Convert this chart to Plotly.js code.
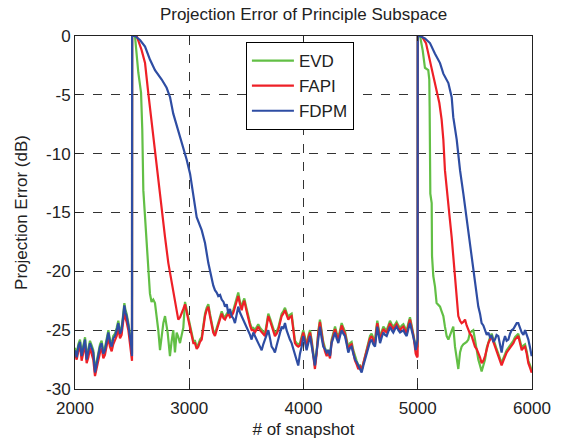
<!DOCTYPE html>
<html>
<head>
<meta charset="utf-8">
<script src="https://cdn.plot.ly/plotly-3.0.1.min.js"></script>
<style>html,body{margin:0;padding:0;background:#fff;}#chart{width:563px;height:439px;}</style>
</head>
<body>
<div id="chart"></div>
<script>
const seriesNames = ["EVD", "FAPI", "FDPM"];
const seriesColors = ["#62bf45", "#ee2027", "#2e4da3"];
const xTicks = [2000, 3000, 4000, 5000, 6000];
const yTicks = [0, -5, -10, -15, -20, -25, -30];

const evdX = [2000,2015,2029,2044,2058,2073,2088,2102,2117,2131,2146,2160,2175,2190,2204,2219,2233,2248,2262,2277,2292,2306,2321,2335,2350,2365,2379,2394,2408,2420,2432,2442,2452,2467,2481,2492,2499,
2500,2525,2540,2554,2578,2589,2598,2618,2636,2645,2656,2670,2685,2700,2715,2729,2744,2758,2773,2788,2800,2811,2822,2831,2845,2860,2875,2890,2905,2919,2934,2948,2963,2978,2992,
3007,3021,3036,3050,3065,3079,3094,3109,3123,3138,3152,3167,3181,3196,3210,3225,3240,3254,3270,3284,3300,3313,3328,3342,3357,3371,3386,3400,3415,3429,3444,3459,3470,3482,3500,3517,3532,3546,3561,3575,3590,3604,3619,3634,3648,3663,3677,3692,3707,3721,3736,3750,3765,3779,3794,3809,3823,3838,3852,3867,3881,3896,3910,3925,3940,3954,3969,3984,
3998,4013,4027,4042,4057,4071,4086,4100,4115,4129,4144,4158,4173,4188,4203,4217,4232,4246,4261,4276,4290,4305,4320,4334,4349,4363,4378,4392,4407,4421,4436,4451,4465,4480,4495,4509,4524,4538,4553,4567,4582,4596,4611,4626,4636,4646,4658,4670,4685,4699,4714,4728,4743,4757,4772,4786,4801,4815,4830,4845,4860,4874,4889,4903,4918,4932,4947,4961,4972,4982,4995,4999,
5000,5020,5043,5055,5063,5092,5101,5104,5110,5122,5125,5136,5151,5165,5180,5195,5209,5224,5238,5253,5268,5282,5297,5311,5326,5341,5355,5370,5384,5399,5414,5428,5443,5457,5472,5486,5501,5516,5530,5545,5559,5574,5589,5604,5618,5633,5647,5662,5676,5690,5705,5720,5734,5749,5764,5778,5793,5808,5822,5837,5851,5866,5880,5895,5910,5925,5939,5954,5968,5983,5997,6000];
const evdY = [-26.5,-27.1,-26.2,-25.8,-27.0,-26.4,-25.6,-27.3,-26.6,-25.9,-26.3,-26.7,-28.4,-27.6,-27.0,-26.2,-25.9,-26.8,-26.5,-25.7,-25.0,-25.8,-26.2,-25.5,-25.3,-24.8,-24.2,-25.1,-24.8,-23.8,-22.7,-23.3,-23.6,-24.4,-25.3,-26.1,-27.0,
0,0,-1.76,-3.1,-4.8,-8.0,-13.1,-16.5,-19.3,-20.8,-21.9,-22.6,-22.4,-22.7,-23.8,-25.0,-26.7,-25.5,-24.4,-23.8,-24.5,-25.2,-26.3,-27.2,-26.0,-25.0,-26.9,-25.2,-25.6,-26.1,-25.4,-24.8,-22.6,-23.3,-23.9,
-24.7,-25.3,-25.9,-25.9,-26.4,-26.2,-25.8,-25.6,-24.6,-23.6,-23.1,-22.8,-23.6,-24.5,-25.0,-25.3,-24.8,-24.5,-23.8,-23.4,-23.8,-23.9,-23.6,-23.4,-23.7,-23.6,-23.3,-22.8,-22.3,-21.8,-22.6,-23.1,-22.6,-22.3,-23.1,-23.9,-24.4,-24.8,-24.8,-25.0,-24.7,-24.5,-24.8,-25.0,-25.2,-25.3,-24.5,-23.6,-24.0,-24.5,-24.9,-25.3,-25.1,-24.8,-24.2,-23.6,-23.4,-23.1,-23.5,-23.9,-23.7,-23.6,-24.7,-25.9,-26.1,-26.2,-26.1,-25.6,
-25.0,-25.6,-26.3,-25.5,-25.0,-25.8,-26.8,-28.0,-26.8,-25.1,-24.1,-25.1,-26.0,-26.5,-26.9,-26.7,-27.1,-25.8,-25.1,-24.7,-25.2,-25.6,-25.0,-24.4,-24.8,-25.1,-25.8,-26.5,-26.1,-26.0,-26.7,-27.3,-27.6,-28.0,-28.0,-28.4,-27.8,-27.2,-26.5,-25.9,-25.5,-25.3,-25.7,-26.0,-24.9,-24.2,-24.9,-25.7,-25.1,-24.7,-24.9,-25.0,-24.6,-24.2,-24.5,-24.7,-24.5,-24.3,-24.6,-24.8,-24.6,-24.5,-24.8,-25.1,-24.4,-23.9,-24.6,-25.2,-25.9,-26.6,-26.5,-26.4,
0,0,-1.2,-2.3,-2.7,-2.9,-3.7,-6.0,-13.4,-14.2,-18.7,-20.4,-21.3,-22.7,-22.9,-23.0,-23.4,-23.8,-24.7,-25.5,-25.8,-25.4,-25.0,-24.7,-26.4,-27.5,-28.3,-26.9,-26.4,-26.2,-26.1,-26.0,-25.8,-25.2,-25.1,-25.0,-25.8,-26.7,-27.5,-28.0,-28.5,-28.0,-27.5,-26.5,-26.0,-25.6,-25.3,-25.8,-26.2,-26.6,-27.0,-27.4,-27.8,-27.4,-27.0,-26.7,-26.5,-26.3,-26.2,-25.9,-25.6,-25.4,-25.3,-25.9,-26.5,-26.3,-26.2,-26.8,-27.6,-28.0,-28.4,-28.2];

const fapiX = [2000,2015,2029,2044,2058,2073,2088,2102,2117,2131,2146,2160,2175,2190,2204,2219,2233,2248,2262,2277,2292,2306,2321,2335,2350,2365,2379,2394,2408,2420,2432,2442,2452,2467,2481,2492,2499,
2500,2540,2583,2613,2642,2671,2700,2729,2759,2788,2817,2846,2860,2875,2890,2904,2920,2934,2948,2963,2978,2992,
3007,3021,3036,3050,3065,3079,3094,3109,3123,3138,3152,3167,3181,3196,3210,3225,3240,3254,3270,3284,3300,3313,3328,3342,3357,3371,3386,3400,3415,3429,3444,3459,3470,3482,3500,3517,3532,3546,3561,3575,3590,3604,3619,3634,3648,3663,3677,3692,3707,3721,3736,3750,3765,3779,3794,3809,3823,3838,3852,3867,3881,3896,3910,3925,3940,3954,3969,3984,
3998,4013,4027,4042,4057,4071,4086,4100,4115,4129,4144,4158,4173,4188,4203,4217,4232,4246,4261,4276,4290,4305,4320,4334,4349,4363,4378,4392,4407,4421,4436,4451,4465,4480,4495,4509,4524,4538,4553,4567,4582,4596,4611,4626,4636,4646,4658,4670,4685,4699,4714,4728,4743,4757,4772,4786,4801,4815,4830,4845,4860,4874,4889,4903,4918,4932,4947,4961,4972,4982,4995,4999,
5000,5034,5072,5092,5113,5130,5165,5189,5209,5224,5238,5253,5276,5297,5311,5326,5341,5355,5370,5384,5399,5414,5428,5443,5457,5472,5486,5501,5516,5530,5545,5559,5574,5589,5604,5618,5633,5647,5662,5676,5690,5705,5720,5734,5749,5764,5778,5793,5808,5822,5837,5851,5866,5880,5895,5910,5925,5939,5954,5968,5983,5997,6000];
const fapiY = [-27.0,-27.5,-26.8,-26.3,-27.6,-27.0,-26.2,-27.8,-27.3,-26.5,-27.0,-27.5,-28.9,-28.2,-27.5,-26.9,-26.5,-27.4,-27.1,-26.3,-25.6,-26.4,-26.8,-26.2,-25.9,-25.5,-24.8,-25.7,-25.4,-24.4,-23.4,-24.0,-24.3,-25.0,-26.0,-26.8,-27.6,
0,0,-1.2,-2.3,-4.9,-7.4,-10.0,-12.5,-15.1,-17.1,-19.3,-21.0,-21.8,-22.4,-23.4,-24.1,-23.9,-23.6,-23.2,-22.8,-23.5,-24.1,
-24.9,-25.5,-26.1,-26.1,-26.6,-26.4,-26.0,-25.8,-24.8,-23.8,-23.3,-23.0,-23.8,-24.7,-25.2,-25.5,-25.0,-24.7,-24.0,-23.6,-24.0,-24.1,-23.8,-23.6,-23.9,-23.8,-23.5,-23.0,-22.6,-22.1,-22.8,-23.3,-22.8,-22.5,-23.3,-24.1,-24.6,-25.0,-25.0,-25.2,-24.9,-24.7,-25.0,-25.2,-25.4,-25.5,-24.7,-23.8,-24.2,-24.7,-25.1,-25.5,-25.3,-25.0,-24.4,-23.8,-23.6,-23.3,-23.7,-24.1,-23.9,-23.8,-24.9,-26.1,-26.3,-26.4,-26.3,-25.8,
-25.2,-25.8,-26.5,-25.7,-25.2,-26.0,-27.0,-28.3,-27.0,-25.3,-24.3,-25.3,-26.2,-26.8,-27.2,-26.9,-27.4,-26.0,-25.3,-24.9,-25.4,-25.8,-25.2,-24.6,-25.0,-25.3,-26.0,-26.7,-26.3,-26.2,-26.9,-27.6,-27.9,-28.3,-28.1,-28.4,-27.8,-27.3,-26.7,-26.1,-25.7,-25.5,-25.9,-26.2,-25.1,-24.4,-25.1,-25.9,-25.3,-24.9,-25.1,-25.2,-24.8,-24.4,-24.7,-24.9,-24.7,-24.5,-24.8,-25.0,-24.8,-24.7,-25.0,-25.3,-24.6,-24.1,-24.8,-25.4,-26.2,-27.0,-27.3,-27.2,
0,0,-0.6,-1.5,-2.3,-3.2,-4.6,-5.7,-7.1,-8.8,-11.4,-13.1,-15.1,-17.1,-18.7,-21.0,-22.4,-23.8,-24.2,-24.4,-24.3,-24.1,-24.6,-25.0,-25.3,-25.5,-26.0,-26.4,-26.6,-26.9,-27.3,-27.8,-27.6,-27.2,-26.6,-26.1,-25.8,-25.5,-26.0,-26.4,-26.8,-27.2,-27.6,-28.0,-27.6,-27.2,-26.9,-26.7,-26.5,-26.4,-26.1,-25.8,-25.6,-25.5,-26.1,-26.7,-26.5,-26.4,-27.0,-27.8,-28.2,-28.6,-28.4];

const fdpmX = [2000,2015,2029,2044,2058,2073,2088,2102,2117,2131,2146,2160,2175,2190,2204,2219,2233,2248,2262,2277,2292,2306,2321,2335,2350,2365,2379,2394,2408,2420,2432,2442,2452,2467,2481,2492,2499,
2500,2525,2569,2613,2656,2700,2759,2802,2832,2860,2904,2948,2977,3007,3036,3065,3109,3138,3167,3190,3210,3225,3240,3254,3270,3284,3300,3313,3328,3342,3357,3371,3386,3400,3415,3429,3444,3459,3474,3488,3503,3517,3532,3546,3561,3575,3590,3604,3619,3634,3648,3663,3677,3692,3707,3721,3736,3750,3765,3779,3794,3809,3823,3838,3852,3867,3881,3896,3910,3925,3940,3954,3969,3984,
3998,4013,4027,4042,4057,4071,4086,4100,4115,4129,4144,4158,4173,4188,4203,4217,4232,4246,4261,4276,4290,4305,4320,4334,4349,4363,4378,4392,4407,4421,4436,4451,4465,4480,4495,4509,4524,4538,4553,4567,4582,4596,4611,4626,4636,4646,4658,4670,4685,4699,4714,4728,4743,4757,4772,4786,4801,4815,4830,4845,4860,4874,4889,4903,4918,4932,4947,4961,4972,4982,4995,4999,
5000,5014,5063,5107,5151,5195,5224,5268,5297,5311,5341,5370,5399,5428,5457,5486,5507,5516,5530,5545,5559,5574,5589,5604,5618,5633,5647,5662,5676,5690,5705,5720,5734,5749,5764,5778,5793,5808,5822,5837,5851,5866,5880,5895,5910,5925,5939,5954,5968,5983,5997,6000];
const fdpmY = [-26.7,-27.3,-26.4,-26.0,-27.2,-26.6,-25.8,-27.5,-26.8,-26.1,-26.5,-26.9,-28.6,-27.8,-27.2,-26.4,-26.1,-27.0,-26.7,-25.9,-25.2,-26.0,-26.4,-25.7,-25.5,-25.0,-24.4,-25.3,-25.0,-24.0,-22.9,-23.5,-23.8,-24.6,-25.5,-26.3,-27.2,
0,0,-0.34,-0.9,-2.0,-2.9,-3.7,-4.4,-5.2,-6.6,-8.0,-9.4,-10.5,-11.7,-13.7,-15.4,-16.5,-17.6,-19.3,-20.4,-21.2,-21.6,-21.8,-22.1,-22.0,-22.4,-22.6,-23.0,-22.8,-23.6,-23.2,-23.8,-24.0,-24.4,-23.6,-23.0,-23.5,-23.8,-24.2,-24.4,-24.8,-25.0,-25.4,-25.8,-25.2,-25.5,-25.9,-26.1,-26.4,-26.7,-26.2,-25.8,-25.3,-25.0,-25.7,-26.4,-26.6,-26.9,-26.3,-25.8,-25.2,-24.7,-24.9,-24.4,-25.0,-25.5,-25.8,-26.1,-26.6,-27.2,-27.6,-28.0,-27.0,-26.4,
-25.5,-26.0,-26.7,-26.0,-25.5,-26.3,-27.2,-28.0,-26.8,-25.5,-24.7,-25.6,-26.4,-26.6,-26.9,-26.7,-27.2,-26.1,-25.6,-25.2,-25.7,-26.1,-25.5,-25.0,-25.3,-25.5,-26.2,-26.9,-26.5,-26.4,-27.0,-27.5,-27.7,-28.0,-28.3,-28.6,-28.0,-27.5,-26.9,-26.4,-26.0,-25.8,-26.2,-26.4,-25.5,-24.7,-25.4,-26.1,-25.6,-25.2,-25.4,-25.5,-25.1,-24.7,-25.0,-25.2,-24.9,-24.7,-25.0,-25.2,-25.1,-25.0,-25.3,-25.5,-24.9,-24.4,-25.0,-25.5,-26.0,-26.7,-26.0,-25.8,
0,0,-0.2,-0.6,-1.5,-2.3,-3.2,-4.0,-5.2,-6.9,-8.8,-11.4,-13.4,-15.6,-17.6,-19.9,-21.3,-22.4,-23.0,-23.6,-24.4,-24.6,-25.0,-25.4,-25.2,-25.6,-25.5,-26.0,-25.8,-25.4,-25.5,-26.2,-26.9,-26.0,-25.5,-25.9,-25.8,-25.3,-25.0,-24.9,-24.7,-24.4,-24.4,-24.9,-25.2,-25.4,-25.0,-25.4,-25.8,-26.5,-27.2,-27.0];

const xs = [evdX, fapiX, fdpmX];
const ys = [evdY, fapiY, fdpmY];
const traces = seriesNames.map((n, i) => ({
  type: "scatter", mode: "lines", name: n, x: xs[i], y: ys[i],
  line: {color: seriesColors[i], width: 2.2}
}));

const font = "Liberation Sans, Arial, sans-serif";
const layout = {
  width: 563, height: 439,
  margin: {l: 75, r: 31, t: 36, b: 50},
  paper_bgcolor: "#fff", plot_bgcolor: "#fff",
  font: {family: font, size: 17, color: "#222"},
  title: {text: "Projection Error of Principle Subspace", font: {family: font, size: 17, color: "#222"},
          x: 0.5, xref: "paper", y: 0.968, yref: "container", yanchor: "middle"},
  showlegend: true,
  legend: {x: 0.374, y: 0.983, xanchor: "left", yanchor: "top", bgcolor: "#fff",
           itemwidth: 42, tracegroupgap: 0,
           bordercolor: "#000", borderwidth: 1, font: {family: font, size: 17, color: "#222"}},
  xaxis: {range: [2000, 6000], tickvals: xTicks, ticktext: xTicks.map(String),
          showline: true, mirror: "ticks", linecolor: "#222", linewidth: 1,
          ticks: "inside", ticklen: 5, tickcolor: "#222", ticklabelstandoff: 4,
          showgrid: true, gridcolor: "#333", griddash: "dash", gridwidth: 1, zeroline: false,
          title: {text: "# of snapshot", font: {family: font, size: 17, color: "#222"}, standoff: 6},
          tickfont: {family: font, size: 17, color: "#222"}},
  yaxis: {range: [-30, 0], tickvals: yTicks, ticktext: yTicks.map(String),
          showline: true, mirror: "ticks", linecolor: "#222", linewidth: 1,
          ticks: "inside", ticklen: 5, tickcolor: "#222",
          showgrid: true, gridcolor: "#333", griddash: "dash", gridwidth: 1, zeroline: false,
          title: {text: "Projection Error (dB)", font: {family: font, size: 17, color: "#222"}, standoff: 14},
          tickfont: {family: font, size: 17, color: "#222"}}
};
Plotly.newPlot("chart", traces, layout, {displayModeBar: false, staticPlot: true});
</script>
</body>
</html>
